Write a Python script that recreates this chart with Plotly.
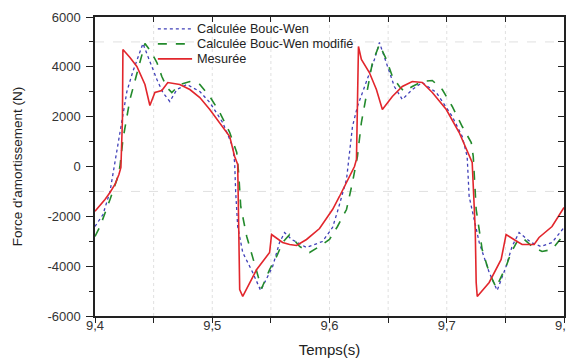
import plotly.graph_objects as go

# ---- data ----
t_mes = [9.4000, 9.4043, 9.4085, 9.4128, 9.4170, 9.4204, 9.4221, 9.4234, 9.4238, 9.4298,
         9.4357, 9.4426, 9.4468, 9.4511, 9.4570, 9.4621, 9.4681, 9.4723, 9.4809, 9.4894,
         9.4979, 9.5064, 9.5149, 9.5191, 9.5217, 9.5226, 9.5234, 9.5260, 9.5379, 9.5489,
         9.5506, 9.5600, 9.5660, 9.5719, 9.5804, 9.5915, 9.6026, 9.6085, 9.6145, 9.6187,
         9.6213, 9.6230, 9.6238, 9.6247, 9.6272, 9.6340, 9.6400, 9.6451, 9.6536, 9.6621,
         9.6706, 9.6791, 9.6877, 9.6996, 9.7106, 9.7191, 9.7217, 9.7243, 9.7251, 9.7260,
         9.7362, 9.7464, 9.7506, 9.7600, 9.7643, 9.7745, 9.7787, 9.7898, 9.8000]
f_mes = [-1800, -1565, -1324, -1043, -722, -321, -40, 1886, 4695, 4374,
         4013, 3290, 2448, 2970, 3050, 3371, 3331, 3290, 3090, 2769,
         2287, 1766, 1204, 401, 80, -2528, -4936, -5217, -4133, -3451,
         -2729, -3050, -3130, -3170, -2929, -2488, -1726, -1204, -642, -241,
         0, 281, 2689, 4816, 4294, 3772, 3090, 2287, 2809, 3210,
         3411, 3371, 2970, 2287, 1364, 482, 161, -2528, -4655, -5217,
         -4655, -3732, -2729, -3010, -3130, -3130, -2849, -2408, -1645]

t_bw = [9.4000, 9.4068, 9.4128, 9.4187, 9.4230, 9.4272, 9.4323, 9.4366, 9.4409, 9.4468,
        9.4528, 9.4579, 9.4638, 9.4698, 9.4783, 9.4894, 9.4979, 9.5089, 9.5174, 9.5191,
        9.5200, 9.5217, 9.5260, 9.5345, 9.5413, 9.5515, 9.5574, 9.5617, 9.5677, 9.5804,
        9.5940, 9.6026, 9.6068, 9.6145, 9.6170, 9.6196, 9.6238, 9.6315, 9.6383, 9.6426,
        9.6485, 9.6553, 9.6621, 9.6706, 9.6791, 9.6911, 9.7047, 9.7132, 9.7174, 9.7191,
        9.7234, 9.7277, 9.7362, 9.7430, 9.7506, 9.7557, 9.7617, 9.7719, 9.7804, 9.7898,
        9.8000]
f_bw = [-2408, -1926, -1003, 682, 1886, 3010, 3812, 4374, 4936, 4214,
        3491, 2970, 2608, 3090, 3291, 3010, 2568, 1766, 803, 160,
        -1043, -2408, -3451, -4254, -4976, -4013, -3050, -2649, -2929, -3250,
        -3010, -2448, -1806, -522, 562, 1605, 2408, 3371, 4294, 4976,
        4174, 3210, 2689, 3090, 3371, 2970, 2006, 1204, 401, -1204,
        -2127, -3050, -4254, -4976, -4013, -3210, -2649, -3050, -3210, -3050,
        -2448]

t_bwm = [9.4000, 9.4043, 9.4128, 9.4187, 9.4213, 9.4238, 9.4298, 9.4357, 9.4426, 9.4477,
         9.4528, 9.4570, 9.4613, 9.4655, 9.4723, 9.4809, 9.4894, 9.4979, 9.5064, 9.5149,
         9.5209, 9.5226, 9.5243, 9.5294, 9.5345, 9.5421, 9.5489, 9.5549, 9.5600, 9.5660,
         9.5745, 9.5830, 9.5915, 9.6000, 9.6068, 9.6145, 9.6196, 9.6238, 9.6272, 9.6315,
         9.6366, 9.6426, 9.6485, 9.6536, 9.6596, 9.6638, 9.6706, 9.6791, 9.6877, 9.6962,
         9.7047, 9.7132, 9.7209, 9.7226, 9.7251, 9.7302, 9.7362, 9.7421, 9.7506, 9.7549,
         9.7600, 9.7643, 9.7728, 9.7813, 9.7898, 9.8000]
f_bwm = [-2809, -2408, -1324, -522, 0, 1084, 2689, 3772, 4936, 4615,
         4174, 3612, 3170, 2970, 3290, 3411, 3291, 2809, 2167, 1364,
         562, -321, -1605, -2809, -3612, -4896, -4133, -3612, -3050, -2729,
         -3210, -3451, -3210, -2929, -2408, -1726, -642, 401, 1766, 2809,
         4174, 4896, 4294, 3612, 3210, 3010, 3210, 3411, 3451, 3090,
         2408, 1605, 963, 401, -1726, -3331, -4254, -4856, -4013, -3451,
         -3010, -2849, -3210, -3411, -3331, -2729]

x_tickvals = [9.4, 9.5, 9.6, 9.7, 9.8]
x_ticktext = ["9,4", "9,5", "9,6", "9,7", "9,8"]
y_tickvals = [-6000, -4000, -2000, 0, 2000, 4000, 6000]
y_ticktext = ["-6000", "-4000", "-2000", "0", "2000", "4000", "6000"]
x_grid = [9.45, 9.5, 9.55, 9.6, 9.65, 9.7, 9.75]
y_grid = [5000, -1000]

names = ["Calculée Bouc-Wen", "Calculée Bouc-Wen modifié", "Mesurée"]
colors = ["#4040b8", "#238a2c", "#e2262c"]
dashes = ["dot", "dash", "solid"]
widths = [1.3, 1.6, 1.6]

FONT = "Liberation Sans, Arial, sans-serif"
XR = [9.4, 9.8]
YR = [-6000, 6000]

fig = go.Figure()
series = [(t_bw, f_bw), (t_bwm, f_bwm), (t_mes, f_mes)]
for (tx, fy), nm, c, d, w in zip(series, names, colors, dashes, widths):
    fig.add_trace(go.Scatter(x=tx, y=fy, mode="lines", name=nm, showlegend=False,
                             line=dict(color=c, width=w, dash=d)))

for gx in x_grid:
    fig.add_shape(type="line", xref="x", yref="paper", x0=gx, x1=gx, y0=0, y1=1,
                  line=dict(color="#e0e0e0", width=1, dash="dot"), layer="below")
for gy in y_grid:
    fig.add_shape(type="line", xref="paper", yref="y", x0=0, x1=1, y0=gy, y1=gy,
                  line=dict(color="#e0e0e0", width=1, dash="dash"), layer="below")

# legend drawn in paper coordinates (compact spacing like the reference)
leg_y = [0.960, 0.910, 0.860]
for nm, c, d, w, yy in zip(names, colors, dashes, widths, leg_y):
    fig.add_shape(type="line", xref="paper", yref="paper", x0=0.134, x1=0.207, y0=yy, y1=yy,
                  line=dict(color=c, width=w, dash=d))
    fig.add_annotation(xref="paper", yref="paper", x=0.213, y=yy, text=nm, showarrow=False,
                       xanchor="left", yanchor="middle",
                       font=dict(family=FONT, size=12.7, color="#222"))

axis_common = dict(showgrid=False, zeroline=False, showline=True, linecolor="#222",
                   linewidth=1.5, tickcolor="#222", automargin=False,
                   tickfont=dict(family=FONT, size=13, color="#333"))

# page body has an 8px margin, so figure is sized/offset to compensate
fig.update_layout(
    width=566, height=353,
    margin=dict(l=87, r=10, t=9, b=45),
    paper_bgcolor="white", plot_bgcolor="white",
    font=dict(family=FONT, color="#222"),
    showlegend=False,
    xaxis=dict(range=XR, tickvals=x_tickvals, ticktext=x_ticktext,
               ticks="outside", ticklen=3, ticklabelstandoff=-6,
               minor=dict(ticks="outside", ticklen=5, dtick=0.05, tickcolor="#222"),
               title=dict(text="Temps(s)", font=dict(family=FONT, size=15, color="#222"), standoff=12),
               **axis_common),
    yaxis=dict(range=YR, tickvals=y_tickvals, ticktext=y_ticktext,
               ticks="outside", ticklen=7, ticklabelstandoff=3,
               minor=dict(ticks="outside", ticklen=4, dtick=1000, tickcolor="#222"),
               title=dict(text="Force d'amortissement (N)", font=dict(family=FONT, size=13.5, color="#222"), standoff=22),
               **axis_common),
    xaxis2=dict(range=XR, overlaying="x", side="top", showticklabels=False,
                ticks="inside", ticklen=5, dtick=0.05, tick0=9.4, automargin=False,
                showgrid=False, zeroline=False, showline=True, linecolor="#222", linewidth=1.5,
                tickcolor="#222"),
    yaxis2=dict(range=YR, overlaying="y", side="right", showticklabels=False,
                ticks="inside", ticklen=6, dtick=1000, tick0=0, automargin=False,
                showgrid=False, zeroline=False, showline=True, linecolor="#222", linewidth=1.5,
                tickcolor="#222"),
)

# invisible helper trace so the top/right frame axes are drawn
fig.add_trace(go.Scatter(x=[XR[0]], y=[YR[0]], xaxis="x2", yaxis="y2", mode="markers",
                         marker=dict(opacity=0), showlegend=False, hoverinfo="skip"))

fig.write_html("out.html")
